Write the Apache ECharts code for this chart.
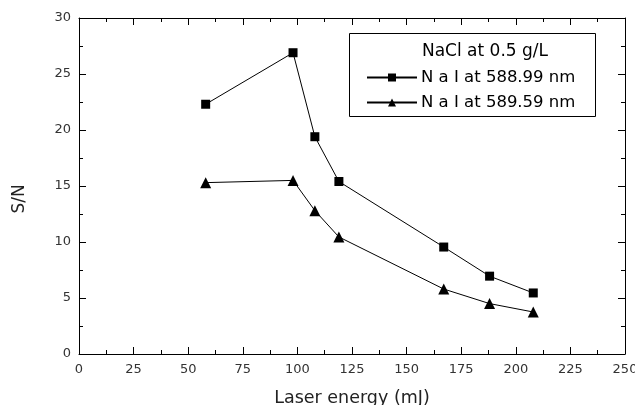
<!DOCTYPE html>
<html><head><meta charset="utf-8">
<script src="https://cdn.jsdelivr.net/npm/echarts@6/dist/echarts.min.js"></script>
<style>html,body{margin:0;padding:0;background:#fff}#c{width:635px;height:405px}</style>
</head><body><div id="c"></div>
<script>
const energy = [58, 98, 108, 119, 167, 188, 208];
const na589_0 = [22.3, 26.9, 19.4, 15.4, 9.55, 6.95, 5.45];
const na589_6 = [15.3, 15.5, 12.8, 10.45, 5.8, 4.5, 3.75];
const seriesNames = ['N a I at 588.99 nm', 'N a I at 589.59 nm'];
const legendTitle = 'NaCl at 0.5 g/L';
const xTitle = 'Laser energy (mJ)';
const yTitle = 'S/N';
const xTicks = [0, 25, 50, 75, 100, 125, 150, 175, 200, 225, 250];
const yTicks = [0, 5, 10, 15, 20, 25, 30];

const font = '"DejaVu Sans", Verdana, sans-serif';
const chart = echarts.init(document.getElementById('c'), null, {renderer: 'canvas'});
function axisParts(ticks) {
  return {
    axisLine: {show: true, onZero: false, lineStyle: {color: '#000', width: 1}},
    axisTick: {show: true, inside: true, length: 7, customValues: ticks, lineStyle: {color: '#000', width: 1}},
    minorTick: {show: true, splitNumber: 2, length: 4, lineStyle: {color: '#000', width: 1}},
    splitLine: {show: false}
  };
}
chart.setOption({
  animation: false,
  grid: {left: 79, top: 18, right: 10, bottom: 51, containLabel: false, outerBoundsMode: 'none'},
  xAxis: [
    Object.assign({type: 'value', min: 0, max: 250, interval: 25, position: 'bottom',
      name: xTitle, nameLocation: 'middle', nameGap: 35,
      nameTextStyle: {fontFamily: font, fontSize: 17.5, color: '#222'},
      axisLabel: {fontFamily: font, fontSize: 13, color: '#333', margin: 9}}, axisParts(xTicks)),
    Object.assign({type: 'value', min: 0, max: 250, interval: 25, position: 'top',
      axisLabel: {show: false}}, axisParts(xTicks))
  ],
  yAxis: [
    Object.assign({type: 'value', min: 0, max: 30, interval: 5, position: 'left',
      name: yTitle, nameLocation: 'middle', nameGap: 51, nameRotate: 90,
      nameTextStyle: {fontFamily: font, fontSize: 17, color: '#222', padding: [0, 0, 0, -26]},
      axisLabel: {fontFamily: font, fontSize: 13, color: '#333', margin: 8}}, axisParts(yTicks)),
    Object.assign({type: 'value', min: 0, max: 30, interval: 5, position: 'right',
      axisLabel: {show: false}}, axisParts(yTicks))
  ],
  legend: {
    orient: 'vertical', left: 366, top: 69, padding: 0, itemGap: 8, itemWidth: 50, itemHeight: 10,
    textStyle: {fontFamily: font, fontSize: 16.5, color: '#000', padding: [0, 0, 0, -1]},
    data: seriesNames
  },
  graphic: [
    {type: 'rect', shape: {x: 349.5, y: 33.5, width: 246, height: 83}, style: {fill: 'none', stroke: '#000', lineWidth: 1}, z: 5},
    {type: 'text', x: 485, y: 52, style: {text: legendTitle, font: '17px ' + font, fill: '#000', align: 'center', verticalAlign: 'middle'}, z: 6}
  ],
  series: [
    {name: seriesNames[0], type: 'line', data: energy.map((x, i) => [x, na589_0[i]]),
      symbol: 'rect', symbolSize: 9, lineStyle: {color: '#000', width: 1}, itemStyle: {color: '#000'}},
    {name: seriesNames[1], type: 'line', data: energy.map((x, i) => [x, na589_6[i]]),
      symbol: 'triangle', symbolSize: 11, lineStyle: {color: '#000', width: 1}, itemStyle: {color: '#000'}}
  ]
});
</script></body></html>
